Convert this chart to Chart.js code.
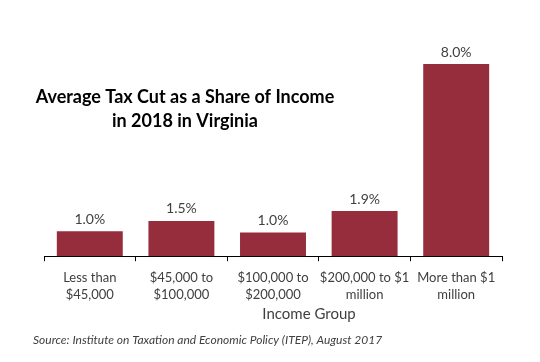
<!DOCTYPE html>
<html>
<head>
<meta charset="utf-8">
<script src="https://cdn.jsdelivr.net/npm/chart.js@4/dist/chart.umd.min.js"></script>
<style>
  body { margin: 0; background: #fff; }
  #graph { display: block; }
</style>
</head>
<body>
<canvas id="graph" width="540" height="362"></canvas>
<script>
// data
var groups = [
  ['Less than', '$45,000'],
  ['$45,000 to', '$100,000'],
  ['$100,000 to', '$200,000'],
  ['$200,000 to $1', 'million'],
  ['More than $1', 'million']
];
var taxCut = [1.04, 1.47, 0.99, 1.88, 8.0];
var titleLines = ['Average Tax Cut as a Share of Income', 'in 2018 in Virginia'];
var axisTitle = 'Income Group';
var sourceText = 'Source: Institute on Taxation and Economic Policy (ITEP), August 2017';

var textColor = '#404040';

// labels over bars + title/axis title/source
const extras = {
  id: 'extras',
  afterDatasetsDraw: function(chart){
    var ctx = chart.ctx;
    var meta = chart.getDatasetMeta(0);
    ctx.save();
    ctx.fillStyle = textColor;
    ctx.font = '14px Lato';
    ctx.textAlign = 'center';
    ctx.textBaseline = 'bottom';
    meta.data.forEach(function(bar, i){
      ctx.fillText(taxCut[i].toFixed(1) + '%', bar.x, bar.y - 5);
    });

    ctx.fillStyle = '#000';
    ctx.font = 'bold 18px Lato';
    ctx.textBaseline = 'middle';
    ctx.fillText(titleLines[0], 185, 97);
    ctx.fillText(titleLines[1], 185, 121);

    ctx.fillStyle = textColor;
    ctx.font = '15px Lato';
    ctx.fillText(axisTitle, 309, 314);

    ctx.textAlign = 'left';
    ctx.font = 'italic 12px Lato';
    ctx.fillText(sourceText, 33, 340);
    ctx.restore();
  }
};

var ctx = document.getElementById('graph');
var chart = new Chart(ctx, {
  type: 'bar',
  data: {
    labels: groups,
    datasets: [{
      data: taxCut,
      backgroundColor: '#952d3d',
      borderWidth: 0,
      categoryPercentage: 1,
      barPercentage: 0.72
    }]
  },
  options: {
    responsive: false,
    animation: false,
    layout: { padding: { left: 44, right: 38, top: 40, bottom: 51 } },
    plugins: {
      legend: { display: false },
      tooltip: { enabled: false }
    },
    scales: {
      x: {
        grid: { display: true, drawOnChartArea: false, offset: true, tickLength: 5, color: '#000' },
        border: { color: '#000', width: 1 },
        ticks: {
          color: textColor,
          font: { family: 'Lato', size: 13, lineHeight: 1.3 },
          padding: 8,
          maxRotation: 0,
          autoSkip: false
        }
      },
      y: {
        display: false,
        min: 0,
        max: 9
      }
    }
  },
  plugins: [extras]
});
</script>
</body>
</html>
